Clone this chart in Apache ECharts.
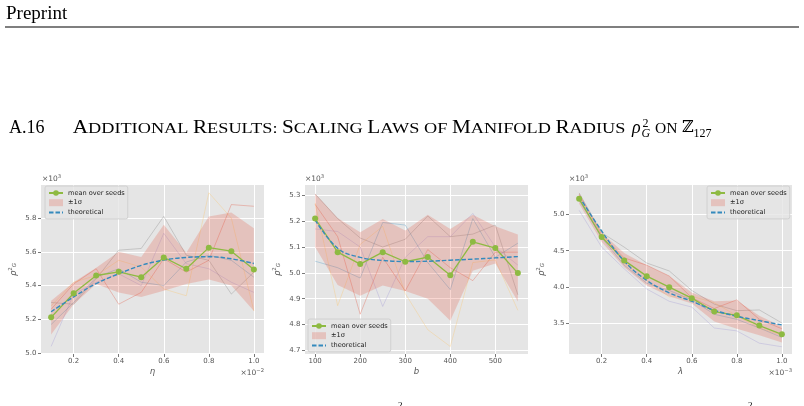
<!DOCTYPE html>
<html><head><meta charset="utf-8">
<script src="https://cdn.jsdelivr.net/npm/echarts@6/dist/echarts.min.js"></script>
<style>html,body{margin:0;padding:0;background:#fff}#c{width:804px;height:406px}</style>
</head><body><div id="c"></div>
<script>
// ---- panel 1: eta ----
const etaX = [0.1,0.2,0.3,0.4,0.5,0.6,0.7,0.8,0.9,1.0];
const etaMean = [5.212,5.355,5.46,5.482,5.45,5.567,5.5,5.625,5.604,5.496];
const etaUpper = [5.31,5.42,5.506,5.60,5.569,5.76,5.594,5.81,5.833,5.74];
const etaLower = [5.11,5.29,5.41,5.36,5.333,5.37,5.41,5.437,5.40,5.25];
const etaTheory = [5.245,5.333,5.412,5.47,5.52,5.551,5.567,5.571,5.559,5.531];
const etaSeedA = [5.26,5.41,5.50,5.29,5.36,5.56,5.48,5.55,5.88,5.87];
const etaSeedB = [5.17,5.30,5.45,5.50,5.42,5.40,5.54,5.58,5.55,5.45];
const etaSeedC = [5.04,5.35,5.42,5.47,5.40,5.71,5.53,5.50,5.42,5.36];
const etaSeedD = [5.30,5.29,5.44,5.61,5.62,5.81,5.58,5.55,5.35,5.48];
const etaSeedE = [5.28,5.42,5.46,5.55,5.51,5.38,5.34,5.95,5.80,5.25];
const etaXTicks = [0.2,0.4,0.6,0.8,1.0];
const etaYTicks = [5.0,5.2,5.4,5.6,5.8];

// ---- panel 2: b ----
const bX = [100,150,200,250,300,350,400,450,500,550];
const bMean = [5.21,5.08,5.034,5.08,5.043,5.061,4.991,5.12,5.096,4.999];
const bUpper = [5.307,5.212,5.157,5.208,5.164,5.225,5.17,5.225,5.18,5.148];
const bLower = [5.10,4.953,4.911,4.951,4.93,4.90,4.815,5.008,5.036,4.889];
const bTheory = [5.205,5.095,5.06,5.048,5.044,5.045,5.049,5.053,5.058,5.063];
const bSeedA = [5.265,5.14,4.84,5.06,4.93,5.09,5.02,4.97,5.08,5.08];
const bSeedB = [5.045,5.02,4.98,5.195,5.185,5.04,4.935,5.21,5.06,5.115];
const bSeedC = [5.17,5.16,5.10,4.87,5.06,5.14,5.14,5.23,5.10,5.03];
const bSeedD = [5.305,5.21,5.135,5.10,5.13,5.22,5.14,5.15,5.185,4.915];
const bSeedE = [5.27,4.873,5.11,5.18,4.92,4.78,4.715,5.04,5.05,4.855];
const bXTicks = [100,200,300,400,500];
const bYTicks = [4.7,4.8,4.9,5.0,5.1,5.2,5.3];

// ---- panel 3: lambda ----
const lamX = [0.1,0.2,0.3,0.4,0.5,0.6,0.7,0.8,0.9,1.0];
const lamMean = [5.218,4.69,4.366,4.148,3.995,3.843,3.657,3.606,3.463,3.343];
const lamUpper = [5.30,4.75,4.47,4.30,4.15,3.92,3.80,3.81,3.60,3.45];
const lamLower = [5.15,4.62,4.27,4.02,3.87,3.77,3.52,3.42,3.33,3.23];
const lamTheory = [5.25,4.773,4.356,4.09,3.917,3.80,3.676,3.593,3.532,3.472];
const lamSeedA = [5.28,4.72,4.40,4.30,4.15,3.85,3.70,3.82,3.55,3.42];
const lamSeedB = [5.20,4.68,4.30,4.05,3.95,3.82,3.62,3.55,3.43,3.30];
const lamSeedC = [5.06,4.55,4.25,3.97,3.80,3.72,3.43,3.39,3.22,3.17];
const lamSeedD = [5.30,4.75,4.55,4.33,4.22,3.95,3.76,3.67,3.68,3.50];
const lamSeedE = [5.25,4.75,4.33,4.09,3.86,3.87,3.78,3.60,3.43,3.33];
const lamXTicks = [0.2,0.4,0.6,0.8,1.0];
const lamYTicks = [3.5,4.0,4.5,5.0];

const SEED_COLORS = ['#E24A33','#348ABD','#988ED5','#777777','#FBC15E'];
const GREEN = '#8EBA42', BLUE = '#348ABD', BAND = 'rgba(226,74,51,0.22)';
const FONT = 'DejaVu Sans';
const SERIF = 'Liberation Serif';

const f1 = v => v.toFixed(1), f0 = v => String(Math.round(v));
const panels = [
  {x:etaX, mean:etaMean, up:etaUpper, lo:etaLower, th:etaTheory, seeds:[etaSeedA,etaSeedB,etaSeedC,etaSeedD,etaSeedE],
   xr:[0.055,1.045], yr:[4.995,5.996], xt:etaXTicks, yt:etaYTicks, xname:'η', xf:f1, yf:f1, left:41, legLeft:45, legTop:186},
  {x:bX, mean:bMean, up:bUpper, lo:bLower, th:bTheory, seeds:[bSeedA,bSeedB,bSeedC,bSeedD,bSeedE],
   xr:[77.5,572.5], yr:[4.686,5.34], xt:bXTicks, yt:bYTicks, xname:'b', xf:f0, yf:f1, left:305, legLeft:308, legTop:319},
  {x:lamX, mean:lamMean, up:lamUpper, lo:lamLower, th:lamTheory, seeds:[lamSeedA,lamSeedB,lamSeedC,lamSeedD,lamSeedE],
   xr:[0.055,1.045], yr:[3.07,5.41], xt:lamXTicks, yt:lamYTicks, xname:'λ', xf:f1, yf:f1, left:569, legLeft:707, legTop:186}
];

const pairs = (xs, ys) => xs.map((x,i) => [x, ys[i]]);
const grids = [], xAxes = [], yAxes = [], series = [], legends = [];
panels.forEach((p, i) => {
  grids.push({left:p.left, top:185, width:223, height:169, show:true, backgroundColor:'#E5E5E5', borderWidth:0});
  xAxes.push({type:'value', gridIndex:i, min:p.xr[0], max:p.xr[1],
    axisLine:{show:false},
    axisTick:{show:true, length:3, lineStyle:{color:'#555', width:0.8}, customValues:p.xt},
    axisLabel:{customValues:p.xt, formatter:p.xf, color:'#555', fontSize:7, fontFamily:FONT, margin:4},
    splitLine:{show:true, lineStyle:{color:'#fff', width:1}},
    name:p.xname, nameLocation:'middle', nameGap:13,
    nameTextStyle:{fontFamily:FONT, fontStyle:'italic', fontSize:8.5, color:'#555'}});
  yAxes.push({type:'value', gridIndex:i, min:p.yr[0], max:p.yr[1],
    axisLine:{show:false},
    axisTick:{show:true, length:3, lineStyle:{color:'#555', width:0.8}, customValues:p.yt},
    axisLabel:{customValues:p.yt, formatter:p.yf, color:'#555', fontSize:7, fontFamily:FONT, margin:4.5},
    splitLine:{show:true, lineStyle:{color:'#fff', width:1}},
    name:'{r|ρ}{p|2}{g|G}', nameLocation:'middle', nameGap:23, nameRotate:90,
    nameTextStyle:{rich:{
      r:{fontFamily:FONT, fontStyle:'italic', fontSize:8.5, color:'#555', verticalAlign:'bottom', lineHeight:10},
      p:{fontFamily:FONT, fontSize:5.5, color:'#555', verticalAlign:'top', lineHeight:6},
      g:{fontFamily:FONT, fontStyle:'italic', fontSize:5.5, color:'#555', verticalAlign:'bottom', lineHeight:4}}}});
  p.seeds.forEach((s, k) => series.push({type:'line', xAxisIndex:i, yAxisIndex:i, data:pairs(p.x, s),
    symbol:'none', silent:true, z:1, lineStyle:{color:SEED_COLORS[k], width:0.8, opacity:0.38}}));
  const xs = p.x, up = p.up, lo = p.lo;
  series.push({type:'custom', name:'±1σ', xAxisIndex:i, yAxisIndex:i, silent:true, z:2,
    data: xs.map((x,k) => [x, lo[k], up[k]]), encode:{x:0, y:[1,2]},
    itemStyle:{color:BAND},
    renderItem:(params, api) => {
      if (params.dataIndex !== 0) return null;
      const pts = [];
      for (let k = 0; k < xs.length; k++) pts.push(api.coord([xs[k], up[k]]));
      for (let k = xs.length - 1; k >= 0; k--) pts.push(api.coord([xs[k], lo[k]]));
      return {type:'polygon', shape:{points:pts}, style:{fill:BAND}};
    }});
  series.push({type:'line', name:'mean over seeds', xAxisIndex:i, yAxisIndex:i, data:pairs(p.x, p.mean),
    symbol:'circle', symbolSize:6, z:3, itemStyle:{color:GREEN}, lineStyle:{color:GREEN, width:1.3}});
  series.push({type:'line', name:'theoretical', xAxisIndex:i, yAxisIndex:i, data:pairs(p.x, p.th),
    symbol:'none', smooth:0.4, z:3, lineStyle:{color:BLUE, width:1.4, type:[4.5,2]}});
  legends.push({orient:'vertical', left:p.legLeft, top:p.legTop, selectedMode:false, z:10,
    data:[{name:'mean over seeds'}, {name:'±1σ', icon:'rect', itemStyle:{color:BAND}},
          {name:'theoretical', itemStyle:{color:'rgba(0,0,0,0)', opacity:0}}],
    itemWidth:14, itemHeight:7, itemGap:2.7, padding:[3.5,3,3,3],
    textStyle:{fontFamily:FONT, fontSize:6.6, color:'#222'},
    backgroundColor:'rgba(229,229,229,0.8)', borderColor:'#cccccc', borderWidth:0.8, borderRadius:2});
});

function mult(x, y, exp, align) {
  return {type:'text', x:x, y:y, silent:true, style:{text:'×10{s|' + exp + '}', align:align, verticalAlign:'bottom',
    rich:{ s:{fontFamily:FONT, fontSize:5.25, fill:'#555', verticalAlign:'top', lineHeight:5.25}},
    fontFamily:FONT, fontSize:7.5, fill:'#555', lineHeight:10}};
}
const big = {fontFamily:SERIF, fontSize:18, lineHeight:18, verticalAlign:'bottom', fill:'#000'};
const sml = {fontFamily:SERIF, fontSize:15.5, lineHeight:16.6, verticalAlign:'bottom', fill:'#000'};
const TITLE_BASE_Y = 136.9;
const graphics = [
  {type:'text', x:6, y:23.1, silent:true, style:{text:'Preprint', fontFamily:SERIF, fontSize:19, lineHeight:19, verticalAlign:'bottom', fill:'#000'}},
  {type:'line', silent:true, shape:{x1:5, y1:27, x2:799, y2:27}, style:{stroke:'#000', lineWidth:1.1}},
  {type:'text', x:9, y:TITLE_BASE_Y, silent:true, style:{text:'{b|A.16}', rich:{b:big}, verticalAlign:'bottom'}},
  {type:'text', x:72.7, y:TITLE_BASE_Y, scaleX:1.178, silent:true, style:{
    text:'{b|A}{s|DDITIONAL }{b|R}{s|ESULTS: }{b|S}{s|CALING }{b|L}{s|AWS OF }{b|M}{s|ANIFOLD }{b|R}{s|ADIUS}',
    rich:{b:big, s:sml}, verticalAlign:'bottom'}},
  {type:'text', x:632, y:TITLE_BASE_Y, silent:true, style:{text:'ρ', fontFamily:SERIF, fontStyle:'italic', fontSize:18, lineHeight:18, verticalAlign:'bottom', fill:'#000'}},
  {type:'text', x:642.5, y:130, silent:true, style:{text:'2', fontFamily:SERIF, fontSize:12, lineHeight:12, verticalAlign:'bottom', fill:'#000'}},
  {type:'text', x:641.5, y:140, silent:true, style:{text:'G', fontFamily:SERIF, fontStyle:'italic', fontSize:12, lineHeight:12, verticalAlign:'bottom', fill:'#000'}},
  {type:'text', x:655, y:TITLE_BASE_Y, silent:true, style:{text:'{s|ON}', rich:{s:sml}, verticalAlign:'bottom'}},
  {type:'text', x:682, y:TITLE_BASE_Y, silent:true, style:{text:'ℤ', fontFamily:'DejaVu Serif', fontSize:16, lineHeight:18, verticalAlign:'bottom', fill:'#000'}},
  {type:'text', x:693.5, y:140, silent:true, style:{text:'127', fontFamily:SERIF, fontSize:12, lineHeight:12, verticalAlign:'bottom', fill:'#000'}},
  mult(42, 184.1, '3', 'left'),
  mult(305, 184.1, '3', 'left'),
  mult(569, 184.1, '3', 'left'),
  mult(264, 378, '−2', 'right'),
  mult(792, 378, '−3', 'right'),
  {type:'text', x:398, y:401, silent:true, style:{text:'2', fontFamily:SERIF, fontSize:9, fill:'#000', verticalAlign:'top'}},
  {type:'text', x:748, y:401, silent:true, style:{text:'2', fontFamily:SERIF, fontSize:9, fill:'#000', verticalAlign:'top'}}
];

const chart = echarts.init(document.getElementById('c'), null, {renderer:'canvas'});
chart.setOption({
  animation:false, backgroundColor:'#fff',
  grid:grids, xAxis:xAxes, yAxis:yAxes, series:series, legend:legends, graphic:graphics
});
</script></body></html>
